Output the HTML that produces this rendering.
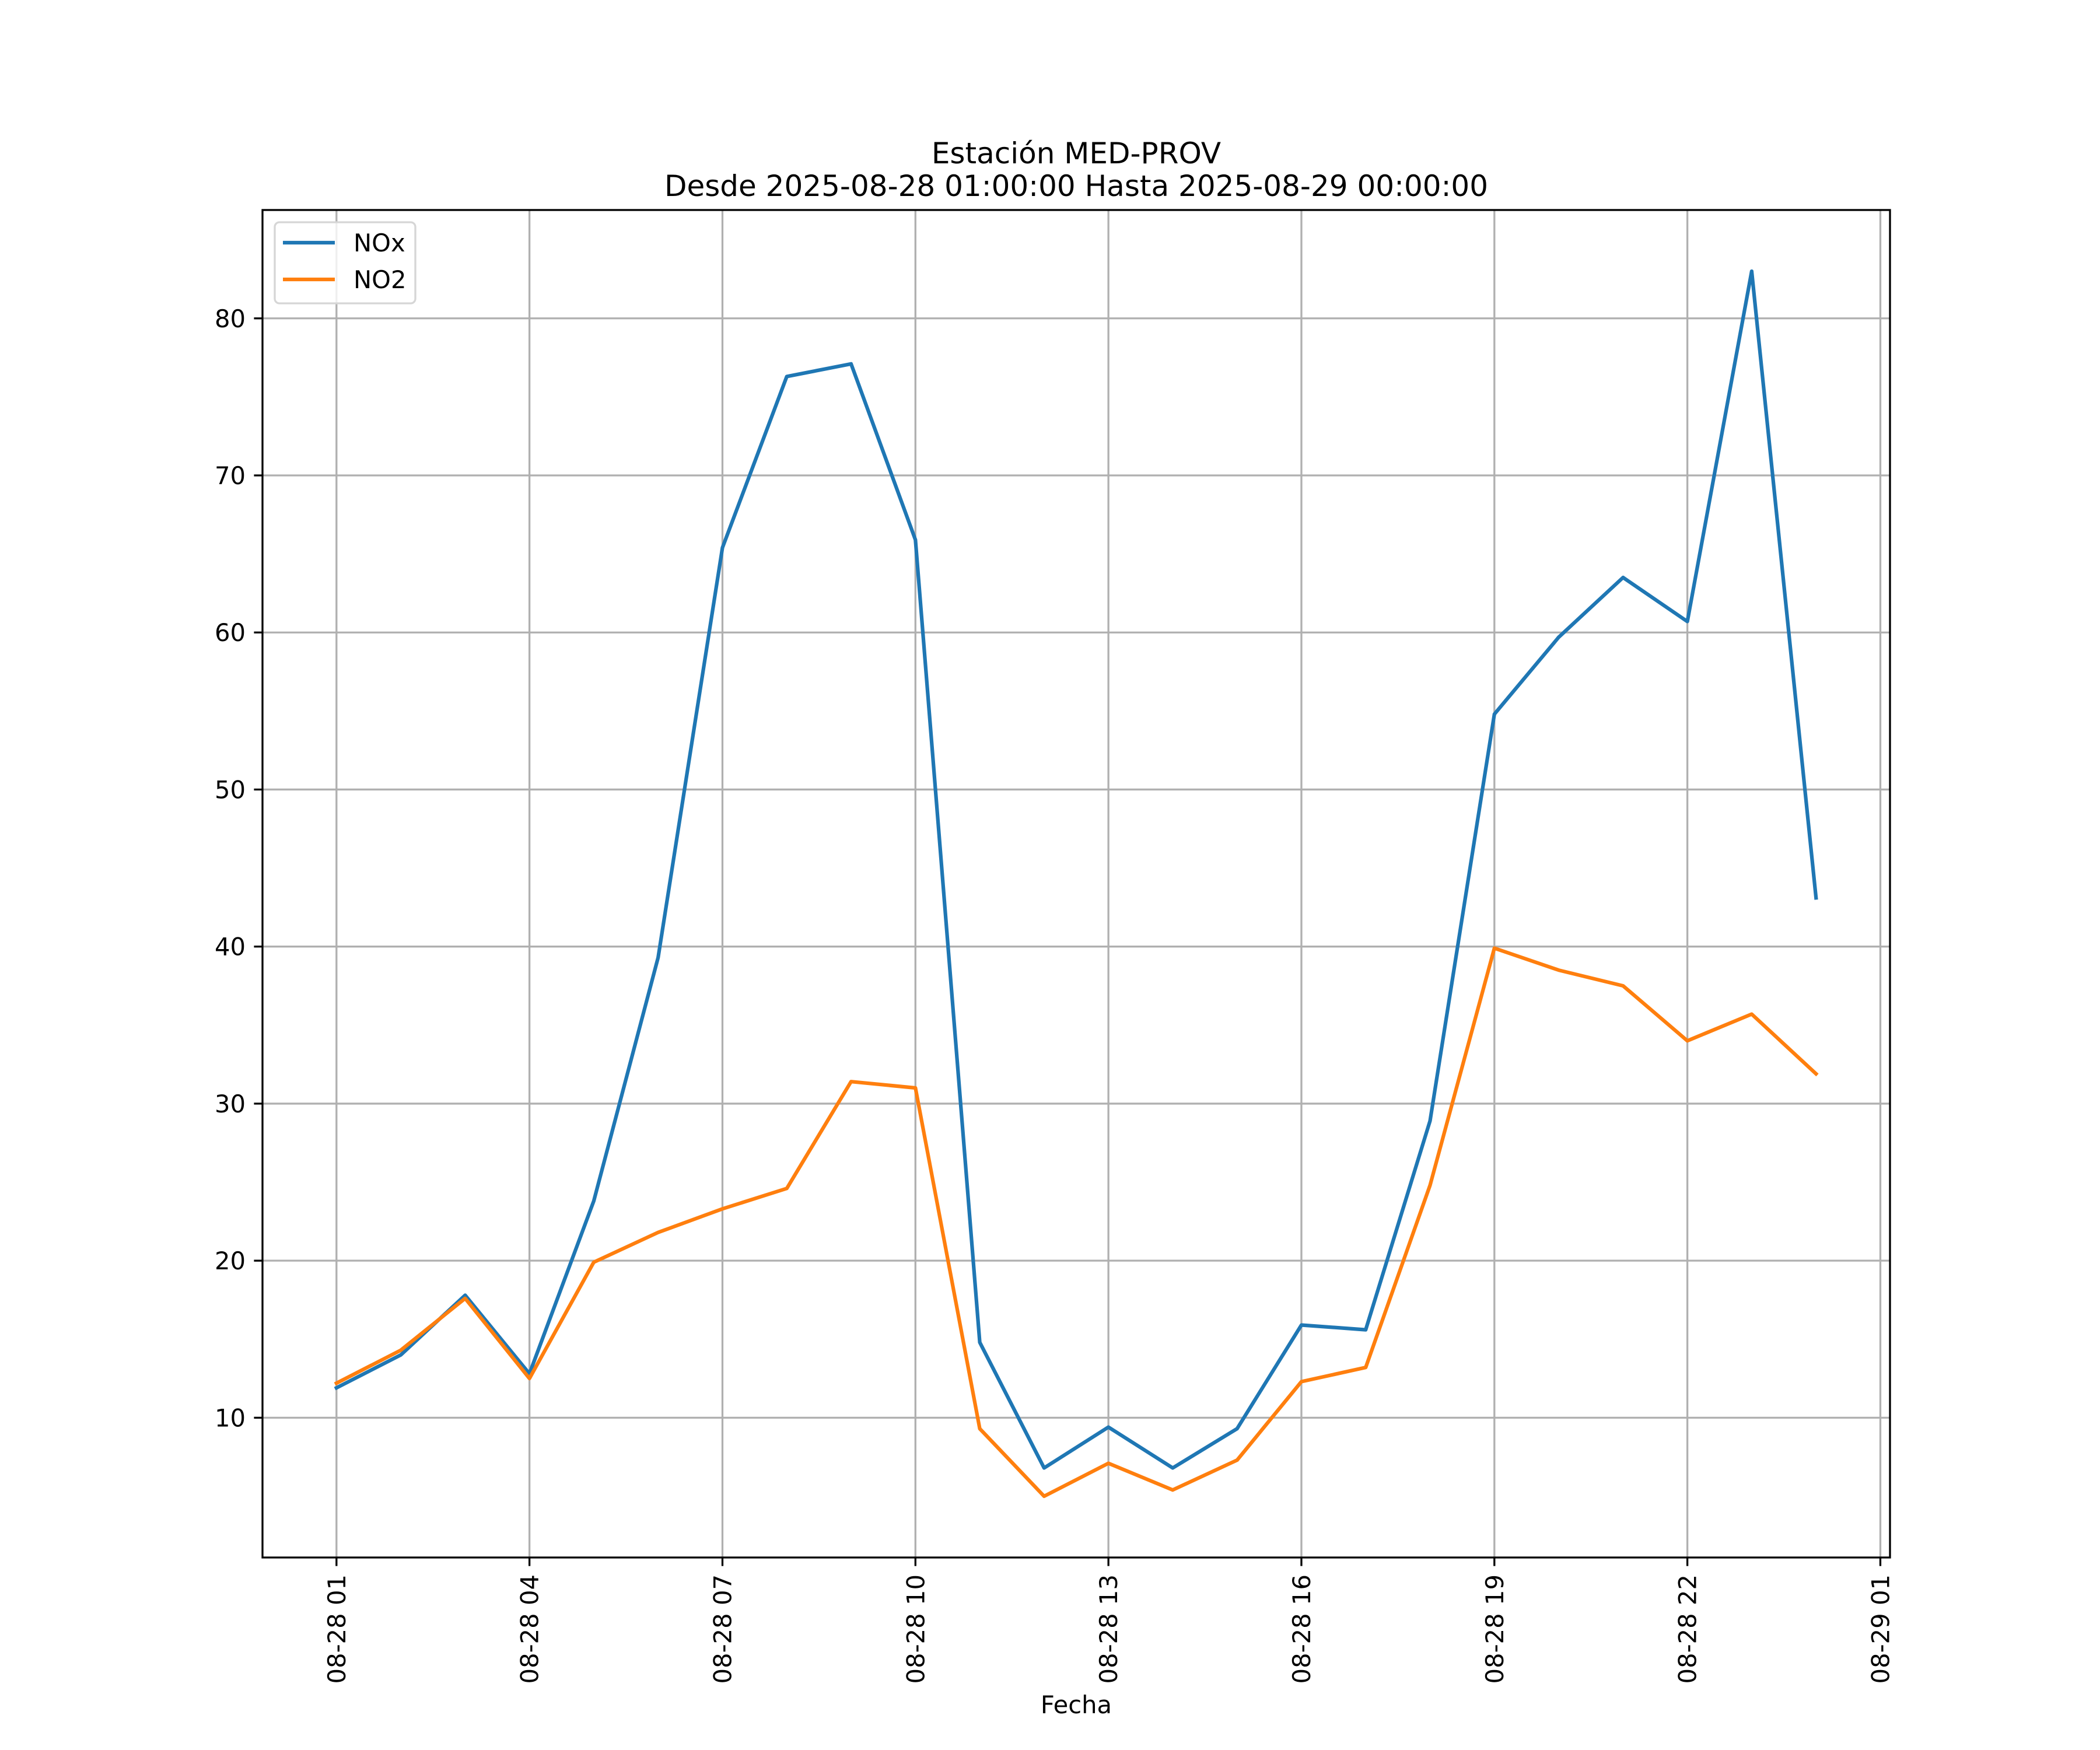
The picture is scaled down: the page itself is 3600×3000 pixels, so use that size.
<!DOCTYPE html>
<html><head><meta charset="utf-8"><style>
html,body{margin:0;padding:0;background:#fff;}
svg{display:block;font-family:"DejaVu Sans","Liberation Sans",sans-serif;}
</style></head><body>
<svg id="chart" width="3600" height="3000" viewBox="0 0 3600 3000" xmlns="http://www.w3.org/2000/svg">
<rect x="0" y="0" width="3600" height="3000" fill="#fff"/>
<text x="1845" y="280" font-size="50" text-anchor="middle">Estación MED-PROV</text>
<text x="1845" y="336" font-size="50" text-anchor="middle">Desde 2025-08-28 01:00:00 Hasta 2025-08-29 00:00:00</text>
<g id="grid"></g>
<g id="series"></g>
<rect x="450" y="360" width="2790" height="2310" fill="none" stroke="#000" stroke-width="3.3"/>
<g id="axes"></g>
<text x="1845" y="2937" font-size="41.7" text-anchor="middle">Fecha</text>
<g>
<rect x="471" y="381" width="241" height="139" rx="8" fill="#fff" fill-opacity="0.8" stroke="#d6d6d6" stroke-width="3.3"/>
<line x1="485" y1="416" x2="574" y2="416" stroke="#1f77b4" stroke-width="6.25"/>
<text x="606" y="431" font-size="41.7">NOx</text>
<line x1="485" y1="479" x2="574" y2="479" stroke="#ff7f0e" stroke-width="6.25"/>
<text x="606" y="494" font-size="41.7">NO2</text>
</g>
</svg>
<script>
const hours = [1,2,3,4,5,6,7,8,9,10,11,12,13,14,15,16,17,18,19,20,21,22,23,24];
const noxValues = [11.9,14.0,17.8,12.8,23.8,39.3,65.4,76.3,77.1,65.9,14.8,6.8,9.4,6.8,9.3,15.9,15.6,28.9,54.8,59.7,63.5,60.7,83.0,43.1];
const no2Values = [12.2,14.3,17.6,12.5,19.9,21.8,23.3,24.6,31.4,31.0,9.3,5.0,7.1,5.4,7.3,12.3,13.2,24.8,39.9,38.5,37.5,34.0,35.7,31.9];
const xTickHours = [1,4,7,10,13,16,19,22,25];
const xTickLabels = ["08-28 01","08-28 04","08-28 07","08-28 10","08-28 13","08-28 16","08-28 19","08-28 22","08-29 01"];
const yTicks = [10,20,30,40,50,60,70,80];

const NS="http://www.w3.org/2000/svg";
const L=450,R=3240,T=360,B=2670;
const allV=noxValues.concat(no2Values);
const vmin=Math.min(...allV), vmax=Math.max(...allV);
const ymin=vmin-0.05*(vmax-vmin), ymax=vmax+0.05*(vmax-vmin);
const hmin=Math.min(...hours), hmax=Math.max(...hours);
const xmin=hmin-0.05*(hmax-hmin), xmax=hmax+0.05*(hmax-hmin);
const xs=h=>L+(h-xmin)/(xmax-xmin)*(R-L);
const ys=v=>B-(v-ymin)/(ymax-ymin)*(B-T);
function mk(tag,attrs,parent){const e=document.createElementNS(NS,tag);for(const k in attrs)e.setAttribute(k,attrs[k]);parent.appendChild(e);return e;}
const grid=document.getElementById('grid'),axes=document.getElementById('axes'),series=document.getElementById('series');
xTickHours.forEach((h,i)=>{
  const x=xs(h);
  const g=mk('line',{x1:x,y1:T,x2:x,y2:B,stroke:'#b0b0b0','stroke-width':3.3},grid);
  
  
  const t=mk('line',{x1:x,y1:B,x2:x,y2:B+14.6,stroke:'#000','stroke-width':3.3},axes);
  
  
  const lb=mk('text',{x:0,y:0,'font-size':41.7,'text-anchor':'end',transform:`translate(${x+15},${B+29}) rotate(-90)`},axes);
  lb.textContent=xTickLabels[i];
  
  
});
yTicks.forEach(v=>{
  const y=ys(v);
  const g=mk('line',{x1:L,y1:y,x2:R,y2:y,stroke:'#b0b0b0','stroke-width':3.3},grid);
  
  
  const t=mk('line',{x1:L-14.6,y1:y,x2:L,y2:y,stroke:'#000','stroke-width':3.3},axes);
  
  
  const lb=mk('text',{x:L-29,y:y+15,'font-size':41.7,'text-anchor':'end'},axes);
  lb.textContent=String(v);
  
  
});
function line(vals,color,name){
  const pts=hours.map((h,i)=>xs(h).toFixed(1)+','+ys(vals[i]).toFixed(1)).join(' ');
  const p=mk('polyline',{points:pts,fill:'none',stroke:color,'stroke-width':6.25,'stroke-linejoin':'round','stroke-linecap':'square'},series);
  
  
}
line(noxValues,'#1f77b4','nox-line');
line(no2Values,'#ff7f0e','no2-line');
</script>
</body></html>
